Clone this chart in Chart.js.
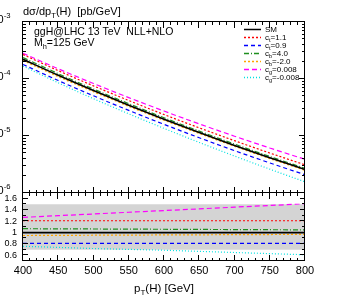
<!DOCTYPE html>
<html>
<head>
<meta charset="utf-8">
<script src="https://cdn.jsdelivr.net/npm/chart.js@4/dist/chart.umd.min.js"></script>
<style>
html, body { margin: 0; padding: 0; background: #fff; overflow: hidden; }
#wrap { position: relative; width: 339px; height: 307px; }
canvas { position: absolute; left: 0; }
#main { top: 0; }
#ratio { top: 190px; }
</style>
</head>
<body>
<div id="wrap">
<canvas id="main" width="339" height="200"></canvas>
<canvas id="ratio" width="339" height="117"></canvas>
</div>
<script>
'use strict'

// pT(H) points [GeV]
const pT = [400, 450, 500, 550, 600, 650, 700, 750, 800];

// dsigma/dpT [pb/GeV]
const xsSM    = [2.22e-4, 1.16e-4, 6.26e-5, 3.47e-5, 1.97e-5, 1.15e-5, 6.84e-6, 4.16e-6, 2.58e-6];
const xsCt11  = [2.69e-4, 1.40e-4, 7.57e-5, 4.20e-5, 2.38e-5, 1.39e-5, 8.28e-6, 5.03e-6, 3.12e-6];
const xsCt09  = [1.80e-4, 9.40e-5, 5.07e-5, 2.81e-5, 1.60e-5, 9.32e-6, 5.54e-6, 3.37e-6, 2.09e-6];
const xsCb40  = [2.38e-4, 1.24e-4, 6.67e-5, 3.69e-5, 2.09e-5, 1.22e-5, 7.22e-6, 4.38e-6, 2.71e-6];
const xsCbm20 = [2.11e-4, 1.10e-4, 5.98e-5, 3.32e-5, 1.89e-5, 1.11e-5, 6.60e-6, 4.02e-6, 2.50e-6];
const xsCg    = [2.82e-4, 1.51e-4, 8.33e-5, 4.72e-5, 2.74e-5, 1.63e-5, 9.92e-6, 6.16e-6, 3.90e-6];
const xsCgm   = [1.69e-4, 8.58e-5, 4.51e-5, 2.45e-5, 1.36e-5, 7.71e-6, 4.45e-6, 2.62e-6, 1.57e-6];

// ratios to SM
const rSM    = [1, 1, 1, 1, 1, 1, 1, 1, 1];
const rCt11  = [1.21, 1.21, 1.21, 1.21, 1.21, 1.21, 1.21, 1.21, 1.21];
const rCt09  = [0.81, 0.81, 0.81, 0.81, 0.81, 0.81, 0.81, 0.81, 0.81];
const rCb40  = [1.07, 1.067, 1.065, 1.062, 1.06, 1.057, 1.055, 1.052, 1.05];
const rCbm20 = [0.95, 0.952, 0.955, 0.957, 0.96, 0.962, 0.965, 0.967, 0.97];
const rCg    = [1.27, 1.30, 1.33, 1.36, 1.39, 1.42, 1.45, 1.48, 1.51];
const rCgm   = [0.76, 0.74, 0.72, 0.705, 0.69, 0.67, 0.65, 0.63, 0.61];
const bandLo = [0.70, 0.70, 0.70, 0.70, 0.70, 0.70, 0.70, 0.70, 0.70];
const bandHi = [1.50, 1.50, 1.50, 1.50, 1.50, 1.50, 1.50, 1.50, 1.50];

// legend names, axis ticks
const names = ['SM', 'c_{t}=1.1', 'c_{t}=0.9', 'c_{b}=4.0', 'c_{b}=-2.0', 'c_{g}=0.008', 'c_{g}=-0.008'];
const xTicks = [400, 450, 500, 550, 600, 650, 700, 750, 800];
const yDecades = [-3, -4, -5, -6];
const rTicks = [0.6, 0.8, 1, 1.2, 1.4, 1.6];

const styles = [
    { color: '#000000', dash: [], width: 1.6 },
    { color: '#ff0000', dash: [2, 2], width: 1.2 },
    { color: '#0000ff', dash: [4, 3], width: 1.2 },
    { color: '#1f8f1f', dash: [5, 2, 1, 2], width: 1.2 },
    { color: '#ffa500', dash: [2, 2], width: 1.2 },
    { color: '#ff00ff', dash: [5, 3], width: 1.2 },
    { color: '#00e0e0', dash: [1, 2], width: 1.2 }
];

const FONT = 'Arial, Helvetica, "Liberation Sans", sans-serif';

function fontStr(size) {
    return Math.round(size * 10) / 10 + 'px ' + FONT;
}

function parseRich(s) {
    const segs = [];
    let cur = '';
    let i = 0;
    while (i < s.length) {
        const c = s[i];
        if ((c === '_' || c === '^') && s[i + 1] === '{') {
            if (cur) { segs.push({ t: cur, k: 0 }); cur = ''; }
            const j = s.indexOf('}', i);
            segs.push({ t: s.slice(i + 2, j), k: c === '_' ? 1 : -1 });
            i = j + 1;
        } else {
            cur += c;
            i++;
        }
    }
    if (cur) segs.push({ t: cur, k: 0 });
    return segs;
}

function drawRich(ctx, s, x, y, size, align) {
    const segs = parseRich(s);
    let w = 0;
    segs.forEach(g => {
        ctx.font = fontStr(g.k ? size * 0.7 : size);
        g.w = ctx.measureText(g.t).width;
        w += g.w;
    });
    let cx = align === 'right' ? x - w : align === 'center' ? x - w / 2 : x;
    ctx.textAlign = 'left';
    ctx.textBaseline = 'middle';
    ctx.fillStyle = '#000';
    segs.forEach(g => {
        ctx.font = fontStr(g.k ? size * 0.7 : size);
        ctx.fillText(g.t, cx, y + g.k * size * 0.35);
        cx += g.w;
    });
}

function line(ctx, x1, y1, x2, y2) {
    ctx.beginPath();
    ctx.moveTo(x1, y1);
    ctx.lineTo(x2, y2);
    ctx.stroke();
}

// frame with inward ticks, gnuplot style
const framePlugin = {
    id: 'frame',
    afterDatasetsDraw(chart, args, opts) {
        const ctx = chart.ctx;
        const a = chart.chartArea;
        const xs = chart.scales.x;
        const ys = chart.scales.y;
        ctx.save();
        ctx.strokeStyle = '#000';
        ctx.lineWidth = 1;
        ctx.setLineDash([]);

        for (let v = 400; v <= 800; v += 10) {
            const len = v % 50 === 0 ? 6 : 3;
            const px = Math.round(xs.getPixelForValue(v)) - 0.5;
            line(ctx, px, a.bottom, px, a.bottom - len);
            line(ctx, px, a.top, px, a.top + len);
        }
        opts.yTicks.forEach(t => {
            const py = Math.round(ys.getPixelForValue(t[0])) - 0.5;
            line(ctx, a.left, py, a.left + t[1], py);
            line(ctx, a.right, py, a.right - t[1], py);
        });
        ctx.strokeRect(a.left - 0.5, a.top - 0.5, a.right - a.left, a.bottom - a.top);
        ctx.restore();
        if (opts.extra) opts.extra(chart);
    }
};

function dataset(label, arr, st, extra) {
    return Object.assign({
        label: label,
        data: pT.map((x, i) => ({ x: x, y: arr[i] })),
        borderColor: st.color,
        borderDash: st.dash,
        borderWidth: st.width,
        pointRadius: 0,
        fill: false,
        cubicInterpolationMode: 'monotone'
    }, extra || {});
}

const mainSeries = [xsSM, xsCt11, xsCt09, xsCb40, xsCbm20, xsCg, xsCgm];
const ratioSeries = [rSM, rCt11, rCt09, rCb40, rCbm20, rCg, rCgm];

const mainYTicks = yDecades.map(d => [Math.pow(10, d), 6]);
[-6, -5, -4].forEach(d => {
    for (let m = 2; m <= 9; m++) mainYTicks.push([m * Math.pow(10, d), 3]);
});

const ratioYTicks = [];
for (let v = 6; v <= 16; v++) ratioYTicks.push([v / 10, v % 2 === 0 ? 5 : 3]);

new Chart(document.getElementById('main'), {
    type: 'line',
    data: {
        datasets: mainSeries.map((s, i) => dataset(names[i], s, styles[i]))
    },
    options: {
        responsive: false,
        animation: false,
        layout: { padding: { left: 23, right: 34, top: 22, bottom: 7 } },
        scales: {
            x: { type: 'linear', min: 400, max: 800, display: false },
            y: { type: 'logarithmic', min: 1e-6, max: 1e-3, display: false }
        },
        plugins: {
            legend: { display: false },
            tooltip: { enabled: false },
            frame: {
                yTicks: mainYTicks,
                extra(chart) {
                    const ctx = chart.ctx;
                    const ys = chart.scales.y;
                    ctx.save();
                    yDecades.forEach(d => {
                        const py = ys.getPixelForValue(Math.pow(10, d));
                        drawRich(ctx, '10^{' + d + '}', 10.5, py - 2.5, 11, 'right');
                    });
                    drawRich(ctx, 'd\u03c3/dp_{T}(H)  [pb/GeV]', 23, 12, 11, 'left');
                    drawRich(ctx, 'ggH@LHC 13 TeV  NLL+NLO', 34, 32, 10.5, 'left');
                    drawRich(ctx, 'M_{h}=125 GeV', 34, 43, 10.5, 'left');
                    styles.forEach((st, i) => {
                        const y = 29.5 + i * 8;
                        ctx.strokeStyle = st.color;
                        ctx.lineWidth = 1.5;
                        ctx.setLineDash(st.dash);
                        line(ctx, 244, y, 261, y);
                        ctx.setLineDash([]);
                        drawRich(ctx, names[i], 265, y, 8, 'left');
                    });
                    ctx.restore();
                }
            }
        }
    },
    plugins: [framePlugin]
});

const ratioSets = ratioSeries.map((s, i) => dataset(names[i], s, styles[i], { order: 0 }));
ratioSets.unshift(
    dataset('bandLo', bandLo, { color: 'rgba(0,0,0,0)', dash: [], width: 0 }, { order: 10 }),
    dataset('bandHi', bandHi, { color: 'rgba(0,0,0,0)', dash: [], width: 0 },
        { order: 10, fill: '-1', backgroundColor: '#d4d4d4' })
);

new Chart(document.getElementById('ratio'), {
    type: 'line',
    data: { datasets: ratioSets },
    options: {
        responsive: false,
        animation: false,
        layout: { padding: { left: 23, right: 34, top: 3, bottom: 46 } },
        scales: {
            x: { type: 'linear', min: 400, max: 800, display: false },
            y: { type: 'linear', min: 0.5, max: 1.7, display: false }
        },
        plugins: {
            legend: { display: false },
            tooltip: { enabled: false },
            filler: { propagate: false },
            frame: {
                yTicks: ratioYTicks,
                extra(chart) {
                    const ctx = chart.ctx;
                    const xs = chart.scales.x;
                    const ys = chart.scales.y;
                    ctx.save();
                    rTicks.forEach(v => {
                        drawRich(ctx, String(v), 17, ys.getPixelForValue(v), 9, 'right');
                    });
                    xTicks.forEach(v => {
                        drawRich(ctx, String(v), xs.getPixelForValue(v), 81, 11, 'center');
                    });
                    drawRich(ctx, 'p_{T}(H) [GeV]', 164, 99, 11.5, 'center');
                    ctx.restore();
                }
            }
        }
    },
    plugins: [framePlugin]
});
</script>
</body>
</html>
